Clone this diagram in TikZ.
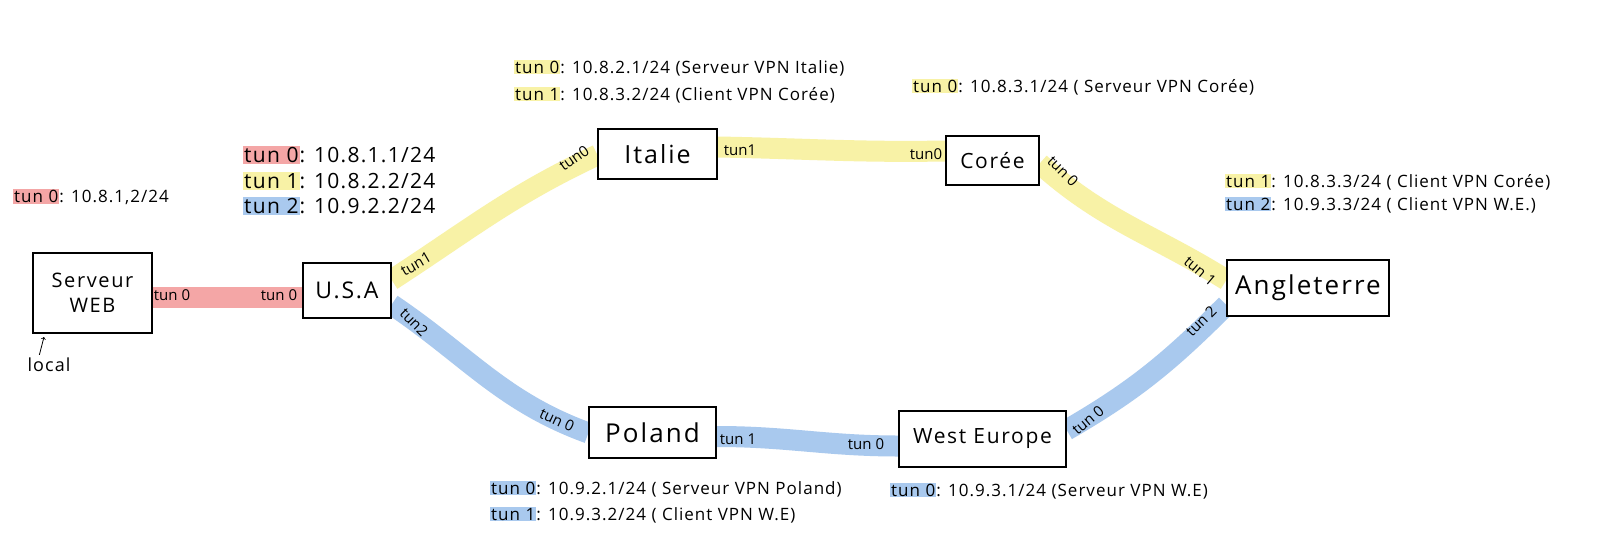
\documentclass[tikz,border=0pt]{standalone}
\usepackage{fontspec}
\setmainfont{Open Sans}
\newfontfamily\handA[LetterSpace=6]{Open Sans}
\newfontfamily\handB[LetterSpace=8]{Open Sans}
\usetikzlibrary{backgrounds,calc}
\definecolor{hred}{HTML}{F4A6A6}
\definecolor{hyel}{HTML}{F8F2A6}
\definecolor{hblu}{HTML}{A9C9EE}
\setlength{\fboxsep}{1pt}
\newcommand\hlr[1]{\colorbox{hred}{#1}}
\newcommand\hly[1]{\colorbox{hyel}{#1}}
\newcommand\hlb[1]{\colorbox{hblu}{#1}}
\begin{document}
\begin{tikzpicture}[x=1pt,y=1pt,
  box/.style={draw=black,line width=1.3pt,fill=white,inner sep=0pt,font=\handB\fontsize{25}{28}\selectfont},
  band/.style={line width=21pt,line cap=butt},
  tl/.style={font=\fontsize{15}{15}\selectfont,inner sep=0pt},
  info/.style={anchor=west,inner sep=0pt,font=\handA\fontsize{17}{19}\selectfont},
  bigtl/.style={anchor=west,inner sep=0pt,font=\handA\fontsize{21}{23}\selectfont}]
\useasboundingbox (0,0) rectangle (1600,-557);
% boxes
\node[box,minimum width=119pt,minimum height=80pt,align=center,font=\handB\fontsize{20}{25}\selectfont] (web) at (92.5,-293) {Serveur\\WEB};
\node[box,minimum width=88pt,minimum height=55pt,font=\handB\fontsize{23}{26}\selectfont] (usa) at (347,-290.5) {U.S.A};
\node[box,minimum width=119pt,minimum height=50pt] (italie) at (657.5,-154) {Italie};
\node[box,minimum width=93pt,minimum height=49pt,font=\handB\fontsize{21}{24}\selectfont] (coree) at (992.5,-160.5) {Corée};
\node[box,minimum width=162pt,minimum height=56pt,font=\handB\fontsize{26}{28}\selectfont] (angl) at (1308,-288) {Angleterre};
\node[box,minimum width=127pt,minimum height=51pt,font=\handB\fontsize{26}{28}\selectfont] (poland) at (652.5,-432.5) {Poland};
\node[box,minimum width=167pt,minimum height=56pt,font=\handB\fontsize{21}{24}\selectfont] (we) at (982.5,-439) {West Europe};
% bands
\begin{scope}[on background layer]
\fill[white] (0,0) rectangle (1600,-557);
\draw[band,hred] ($(web.east)+(0,-4)$) -- ($(usa.west)+(0,-6.5)$);
\draw[band,hyel] ($(usa.east)+(0,10.5)$) to[out=33,in=205] ($(italie.west)+(0,-1)$);
\draw[band,hyel] ($(italie.east)+(0,7)$) to[out=-1,in=181] ($(coree.west)+(0,9.5)$);
\draw[band,hyel] ($(coree.east)+(0,-3)$) to[out=-42,in=148] ($(angl.west)+(0,8)$);
\draw[band,hblu] ($(usa.east)+(0,-14)$) to[out=-34,in=160] ($(poland.west)+(0,-0.5)$);
\draw[band,hblu] ($(poland.east)+(0,-4)$) to[out=0,in=180] ($(we.west)+(0,-7)$);
\draw[band,hblu] ($(we.east)+(0,9)$) to[out=30,in=225] ($(angl.west)+(0,-17)$);
\end{scope}
% band labels
\node[tl] (r1) at (172,-295) {tun 0};
\node[tl] (r2) at (279,-295) {tun 0};
\node[tl,rotate=30] (y1) at (416,-264) {tun1};
\node[tl,rotate=35] (y2) at (574,-158) {tun0};
\node[tl] (y3) at (740,-150) {tun1};
\node[tl] (y4) at (926,-154) {tun0};
\node[tl,rotate=-45] (y5) at (1063,-171) {tun 0};
\node[tl,rotate=-40] (y6) at (1200,-271) {tun 1};
\node[tl,rotate=-45] (b1) at (414,-322) {tun2};
\node[tl,rotate=-25] (b2) at (557,-420) {tun 0};
\node[tl] (b3) at (738,-439) {tun 1};
\node[tl] (b4) at (866,-444) {tun 0};
\node[tl,rotate=40] (b5) at (1088,-420) {tun 0};
\node[tl,rotate=45] (b6) at (1201,-321) {tun 2};
% info labels
\node[info] (iweb) at (13,-197) {\hlr{tun 0}: 10.8.1,2/24};
\node[bigtl] (iusa1) at (243,-155) {\hlr{tun 0}: 10.8.1.1/24};
\node[bigtl] (iusa2) at (243,-181) {\hly{tun 1}: 10.8.2.2/24};
\node[bigtl] (iusa3) at (243,-206) {\hlb{tun 2}: 10.9.2.2/24};
\node[info] (iita1) at (514,-68) {\hly{tun 0}: 10.8.2.1/24 (Serveur VPN Italie)};
\node[info] (iita2) at (514,-95) {\hly{tun 1}: 10.8.3.2/24 (Client VPN Corée)};
\node[info] (icor) at (912,-87) {\hly{tun 0}: 10.8.3.1/24 ( Serveur VPN Corée)};
\node[info] (iang1) at (1225,-182) {\hly{tun 1}: 10.8.3.3/24 ( Client VPN Corée)};
\node[info] (iang2) at (1225,-205) {\hlb{tun 2}: 10.9.3.3/24 ( Client VPN W.E.)};
\node[info] (ipol1) at (490,-489) {\hlb{tun 0}: 10.9.2.1/24 ( Serveur VPN Poland)};
\node[info] (ipol2) at (490,-515) {\hlb{tun 1}: 10.9.3.2/24 ( Client VPN W.E)};
\node[info] (iwe) at (890,-491) {\hlb{tun 0}: 10.9.3.1/24 (Serveur VPN W.E)};
% local
\node[font=\handA\fontsize{18}{18}\selectfont,inner sep=0pt] (local) at (49,-365) {local};
\coordinate (lt) at (44,-337);
\draw[->,line width=0.8pt] ($(local.north west)+(12,3)$) -- (lt);
\end{tikzpicture}
\end{document}
